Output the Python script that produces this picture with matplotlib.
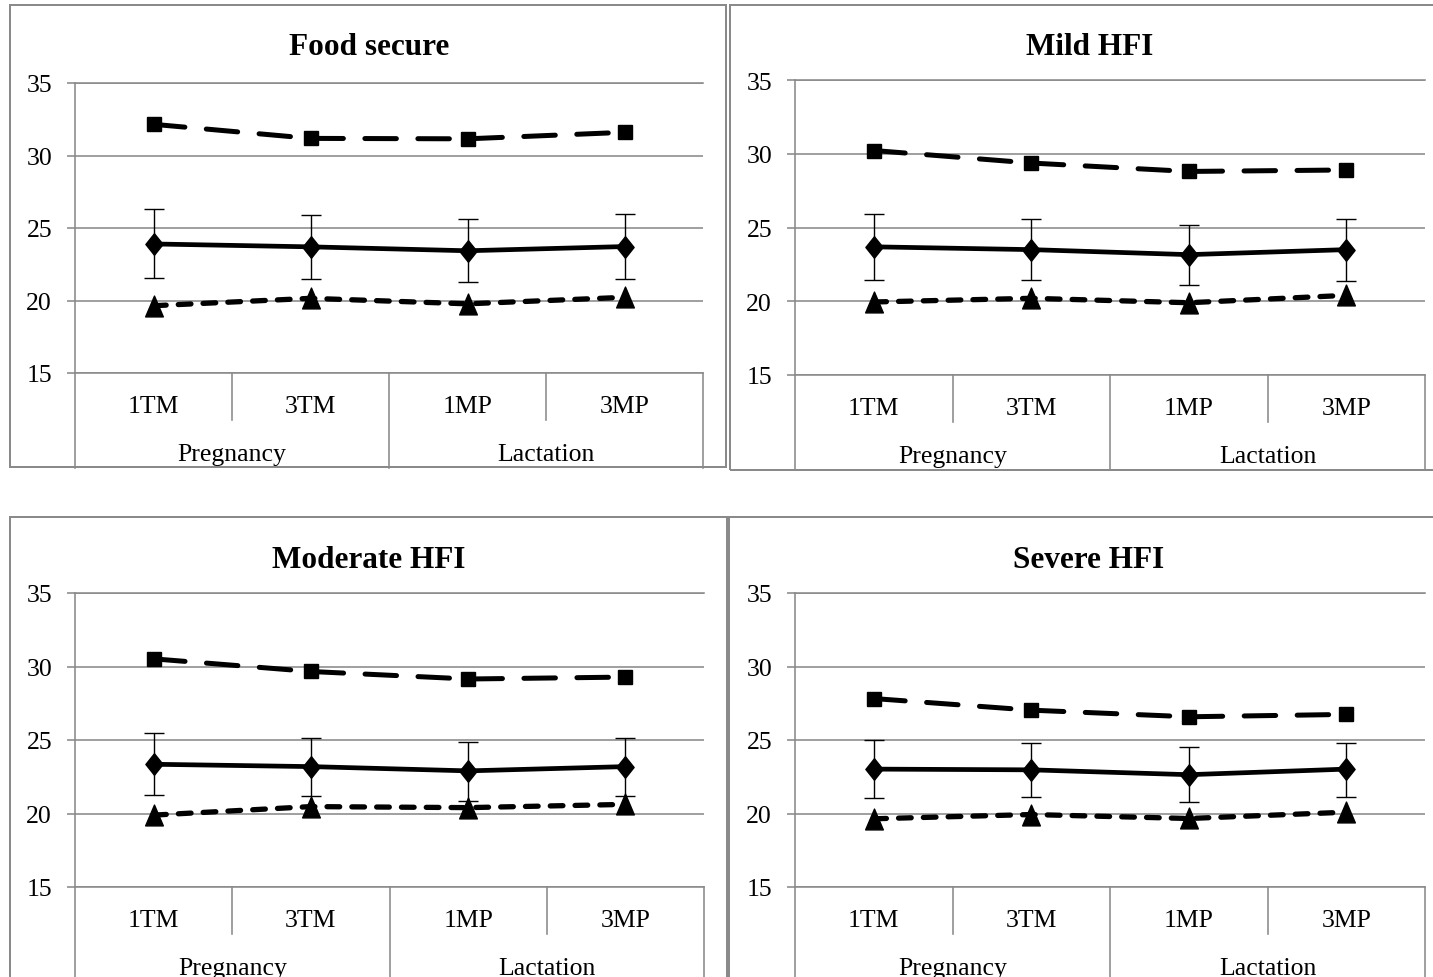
import numpy as np
import matplotlib
matplotlib.use("Agg")
import matplotlib.pyplot as plt
from matplotlib.patches import Rectangle
from matplotlib.path import Path

# ---------------- data ----------------
panel_titles = ["Food secure", "Mild HFI", "Moderate HFI", "Severe HFI"]
categories = ["1TM", "3TM", "1MP", "3MP"]
groups = ["Pregnancy", "Lactation"]
yticks = [15, 20, 25, 30, 35]

fs_square = [32.15, 31.18, 31.15, 31.60]
fs_diamond = [23.90, 23.70, 23.43, 23.72]
fs_err_hi = [26.30, 25.88, 25.60, 25.95]
fs_err_lo = [21.52, 21.50, 21.25, 21.50]
fs_triangle = [19.64, 20.15, 19.77, 20.22]

mild_square = [30.22, 29.37, 28.80, 28.90]
mild_diamond = [23.69, 23.50, 23.16, 23.50]
mild_err_hi = [25.90, 25.56, 25.20, 25.56]
mild_err_lo = [21.42, 21.42, 21.08, 21.37]
mild_triangle = [19.95, 20.20, 19.90, 20.40]

mod_square = [30.52, 29.66, 29.15, 29.28]
mod_diamond = [23.35, 23.19, 22.90, 23.19]
mod_err_hi = [25.45, 25.16, 24.89, 25.16]
mod_err_lo = [21.24, 21.17, 20.88, 21.20]
mod_triangle = [19.89, 20.47, 20.40, 20.62]

sev_square = [27.82, 27.03, 26.58, 26.74]
sev_diamond = [23.02, 22.97, 22.64, 23.02]
sev_err_hi = [25.00, 24.77, 24.50, 24.82]
sev_err_lo = [21.06, 21.10, 20.81, 21.15]
sev_triangle = [19.64, 19.93, 19.66, 20.09]

series = [
    (fs_square, fs_diamond, fs_err_hi, fs_err_lo, fs_triangle),
    (mild_square, mild_diamond, mild_err_hi, mild_err_lo, mild_triangle),
    (mod_square, mod_diamond, mod_err_hi, mod_err_lo, mod_triangle),
    (sev_square, sev_diamond, sev_err_hi, sev_err_lo, sev_triangle),
]

# ---------------- layout (pixels) ----------------
W, H = 1433, 978
DPI = 100
axes_px = [(75, 84, 703, 374), (795, 81, 1425, 376),
           (75, 594, 704, 888), (795, 594, 1425, 888)]
panel_px = [(10, 6, 726, 468), (730, 6, 1450, 471),
            (10, 518, 727, 995), (729, 518, 1450, 995)]
title_px = [(369, 55), (1090, 55), (369, 568), (1089, 568)]

GRAY = "#8a8a8a"
FONT = "Liberation Serif"
plt.rcParams["font.family"] = [FONT, "DejaVu Serif"]

px2pt = 72.0 / DPI

diamond = Path([(0, 1), (0.8, 0), (0, -1), (-0.8, 0), (0, 1)],
               [Path.MOVETO, Path.LINETO, Path.LINETO, Path.LINETO, Path.CLOSEPOLY])
triangle = Path([(0, 1), (0.85, -1), (-0.85, -1), (0, 1)],
                [Path.MOVETO, Path.LINETO, Path.LINETO, Path.CLOSEPOLY])

fig = plt.figure(figsize=(W / DPI, H / DPI), dpi=DPI)
fig.patch.set_facecolor("white")

for i in range(4):
    # panel border
    x0, y0, x1, y1 = panel_px[i]
    fig.add_artist(Rectangle((x0 / W, 1 - y1 / H), (x1 - x0) / W, (y1 - y0) / H,
                             transform=fig.transFigure, fill=False,
                             edgecolor=GRAY, linewidth=2 * px2pt, zorder=0))

    ax0, ay0, ax1, ay1 = axes_px[i]
    hpx = ay1 - ay0
    ax = fig.add_axes([ax0 / W, 1 - ay1 / H, (ax1 - ax0) / W, hpx / H])
    ax.set_facecolor("none")
    ax.set_xlim(0, len(categories))
    ax.set_ylim(yticks[0], yticks[-1])
    ax.set_yticks(yticks)
    ax.set_xticks([])
    ax.spines["right"].set_visible(False)
    for side in ["left", "top", "bottom"]:
        ax.spines[side].set_color(GRAY)
        ax.spines[side].set_linewidth(1.6 * px2pt)
    ax.grid(axis="y", color=GRAY, linewidth=1.6 * px2pt)
    ax.set_axisbelow(True)
    ax.tick_params(axis="y", direction="out", length=8 * px2pt, width=1.6 * px2pt,
                   color=GRAY, pad=15 * px2pt, labelsize=18.5)
    for lab in ax.get_yticklabels():
        lab.set_fontfamily(FONT)

    xt = ax.get_xaxis_transform()
    # category-area lines
    f47 = -47.0 / hpx
    f94 = -95.0 / hpx
    for xv, fy in [(0, f94), (4, f94), (2, f94), (1, f47), (3, f47)]:
        ax.plot([xv, xv], [0, fy], transform=xt, color=GRAY, lw=1.6 * px2pt,
                clip_on=False)

    x = np.arange(len(categories)) + 0.5
    for xc, cat in zip(x, categories):
        ax.text(xc, -39.0 / hpx, cat, transform=xt, ha="center", va="baseline",
                fontsize=18.5, fontfamily=FONT)
    for gi, g in enumerate(groups):
        ax.text(gi * 2 + 1, -87.0 / hpx, g, transform=xt, ha="center", va="baseline",
                fontsize=18.5, fontfamily=FONT)

    sq, dm, hi, lo, tr = (np.array(s) for s in series[i])

    ax.plot(x, sq, color="black", lw=3.6, linestyle=(0, (6.3, 4.3)),
            dash_capstyle="round", marker="s", markersize=10, zorder=3, clip_on=False)
    ax.errorbar(x, dm, yerr=[dm - lo, hi - dm], fmt="none", ecolor="black",
                elinewidth=1.0, capsize=7.5, capthick=1.0, zorder=4)
    ax.plot(x, dm, color="black", lw=3.4, marker=diamond, markersize=15.5,
            zorder=5, clip_on=False)
    ax.plot(x, tr, color="black", lw=3.8, linestyle=(0, (2.4, 2.3)),
            dash_capstyle="round", marker=triangle, markersize=15, zorder=3,
            clip_on=False)

    tx, ty = title_px[i]
    fig.text(tx / W, 1 - ty / H, panel_titles[i], ha="center", va="baseline",
             fontsize=22.5, fontweight="bold", fontfamily=FONT)

fig.savefig("out.png", dpi=DPI, facecolor="white")
